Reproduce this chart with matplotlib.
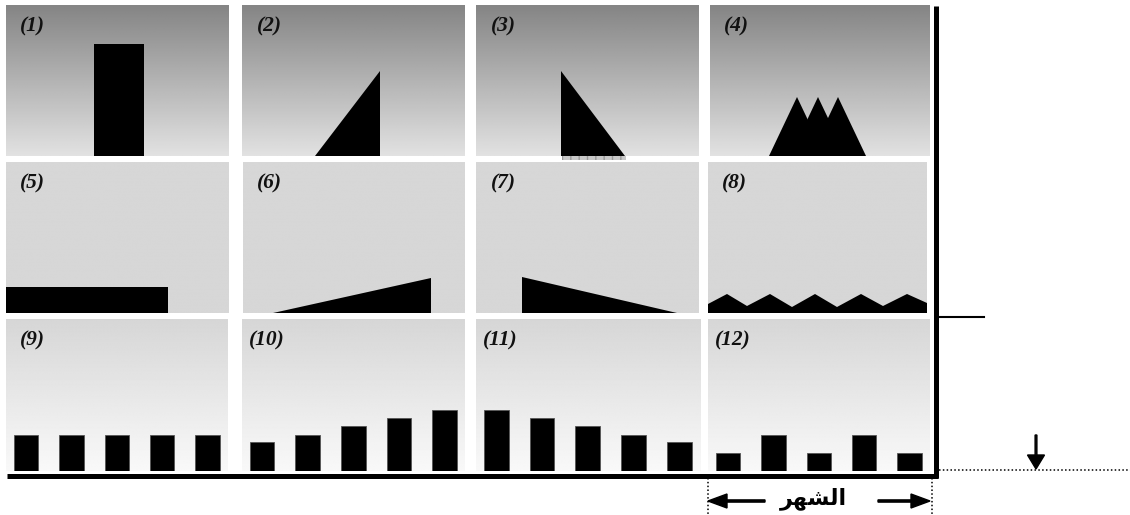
import numpy as np
import matplotlib
matplotlib.use("Agg")
import matplotlib.pyplot as plt

# ---------------- data ----------------
panel_labels = ["(1)", "(2)", "(3)", "(4)", "(5)", "(6)",
                "(7)", "(8)", "(9)", "(10)", "(11)", "(12)"]

# row 1 shapes (panel-local units)
shape1_x = [88, 138, 138, 88]
shape1_y = [0, 0, 112, 112]
shape2_x = [73, 138, 138]
shape2_y = [0, 0, 85]
shape3_x = [85, 85, 149]
shape3_y = [85, 0, 0]
shape4_peaks_x = [87, 108, 128]
shape4_peak_y = 59
shape4_half_base = 28

# row 2 shapes
shape5_x = [0, 162, 162, 0]
shape5_y = [0, 0, 26, 26]
shape6_x = [30, 188, 188]
shape6_y = [0, 0, 35]
shape7_x = [46, 46, 201]
shape7_y = [36, 0, 0]
shape8_x = [0, 0, 19, 39, 62, 84, 107, 129, 153, 175, 199, 219, 219]
shape8_y = [0, 9, 19, 7, 19, 6, 19, 6, 19, 7, 19, 10, 0]

# row 3 bars
bars9 = [36, 36, 36, 36, 36]
bars10 = [29, 36, 45, 53, 61]
bars11 = [61, 53, 45, 36, 29]
bars12 = [18, 36, 18, 36, 18]

# "الشهر" written with Arabic presentation forms in visual order
month_label = "\uFEAE\uFEEC\uFEB8\uFEDF\uFE8D"

# ---------------- layout ----------------
W, H = 1130, 515
fig = plt.figure(figsize=(W / 100, H / 100), dpi=100)
fig.patch.set_facecolor("white")

# (x0, x1, ytop, ybottom) in pixels
geom = [
    (6, 228, 5, 156), (242, 465, 5, 156), (476, 699, 5, 156), (710, 930, 5, 156),
    (6, 228, 162, 313), (243, 465, 162, 313), (476, 699, 162, 313), (708, 927, 162, 313),
    (6, 228, 319, 471), (242, 465, 319, 471), (476, 700, 319, 471), (708, 930, 319, 471),
]
row_grad = [(0.52, 0.885), (0.84, 0.84), (0.84, 0.975)]


def make_ax(i):
    x0, x1, yt, yb = geom[i]
    ax = fig.add_axes([x0 / W, 1 - yb / H, (x1 - x0) / W, (yb - yt) / H])
    ax.set_axis_off()
    return ax


def background(ax, row, xlim, ylim):
    top, bot = row_grad[row]
    g = np.linspace(top, bot, 200).reshape(-1, 1)
    ax.imshow(g, extent=[xlim[0], xlim[1], ylim[0], ylim[1]], cmap="gray",
              vmin=0, vmax=1, aspect="auto", origin="upper", zorder=0,
              interpolation="bilinear")
    ax.set_xlim(*xlim)
    ax.set_ylim(*ylim)


def label(ax, i):
    txt = panel_labels[i]
    off = 0.065 if len(txt) == 3 else 0.03
    ax.text(off, 0.86, txt, transform=ax.transAxes, fontsize=15.5,
            family="Liberation Serif", fontweight="bold", fontstyle="italic",
            ha="left", va="center", color="#111111", zorder=5)


shape_panels = {
    0: [(shape1_x, shape1_y)],
    1: [(shape2_x, shape2_y)],
    2: [(shape3_x, shape3_y)],
    3: [([px - shape4_half_base, px, px + shape4_half_base],
         [0, shape4_peak_y, 0]) for px in shape4_peaks_x],
    4: [(shape5_x, shape5_y)],
    5: [(shape6_x, shape6_y)],
    6: [(shape7_x, shape7_y)],
    7: [(shape8_x, shape8_y)],
}

for i in range(8):
    ax = make_ax(i)
    x0, x1, yt, yb = geom[i]
    background(ax, i // 4, (0, x1 - x0), (0, yb - yt))
    for xs, ys in shape_panels[i]:
        ax.fill(xs, ys, color="black", lw=0, zorder=2)
    if i == 2:
        ax.bar(118, 4, width=64, bottom=-4, color="#c8c8c8", hatch="++",
               edgecolor="#999999", lw=0, clip_on=False, zorder=1)
    label(ax, i)

bar_sets = [bars9, bars10, bars11, bars12]
for k, vals in enumerate(bar_sets):
    i = 8 + k
    ax = make_ax(i)
    x0, x1, yt, yb = geom[i]
    background(ax, 2, (-0.44, 4.45), (0, yb - yt))
    ax.bar(np.arange(len(vals)), vals, width=0.54, color="black",
           edgecolor="#555555", lw=0.6, zorder=2)
    label(ax, i)

# ---------------- overlay frame ----------------
ov = fig.add_axes([0, 0, 1, 1], zorder=10)
ov.set_xlim(0, W)
ov.set_ylim(H, 0)
ov.set_axis_off()
ov.patch.set_alpha(0)

ov.plot([7, 938], [475.5, 475.5], color="black", lw=3.6, solid_capstyle="butt")
ov.plot([936, 936], [6, 478], color="black", lw=3.6, solid_capstyle="butt")
ov.plot([938, 984], [317, 317], color="black", lw=1.5)
ov.plot([939, 1130], [470, 470], color="black", lw=1.1, ls=(0, (1, 1.5)))
ov.plot([708, 708], [478, 515], color="black", lw=1.1, ls=(0, (1, 1.5)))
ov.plot([932, 932], [478, 515], color="black", lw=1.1, ls=(0, (1, 1.5)))

ov.arrow(1036, 435, 0, 34, width=1.8, head_width=17, head_length=14,
         length_includes_head=True, fc="black", ec="black")
ov.arrow(765, 501, -57, 0, width=2.2, head_width=14, head_length=19,
         length_includes_head=True, fc="black", ec="black")
ov.arrow(878, 501, 52, 0, width=2.2, head_width=14, head_length=19,
         length_includes_head=True, fc="black", ec="black")

ov.text(813, 499, month_label, fontsize=16, fontweight="bold",
        family=["DejaVu Sans"], ha="center", va="center", color="black")

fig.savefig("out.png", dpi=100, facecolor="white")
